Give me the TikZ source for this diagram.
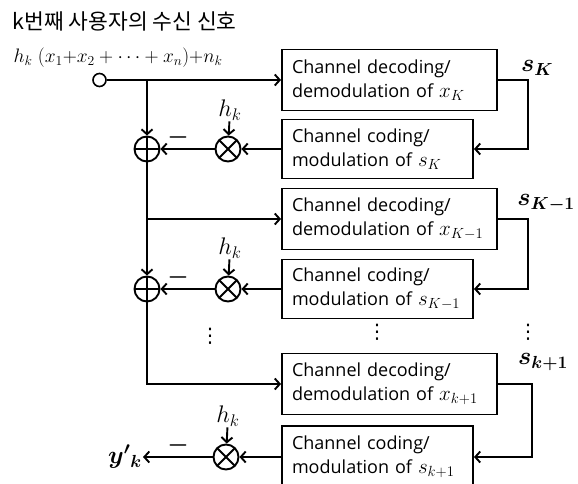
\RequirePackage{fix-cm}
\documentclass[tikz,border=0pt]{standalone}
\usepackage[no-math]{fontspec}
\usepackage{bm}
\setmainfont{Open Sans}
\newfontfamily\krfont{Noto Sans CJK KR}
\newfontfamily\symfont{DejaVu Sans}
\usetikzlibrary{arrows.meta,calc}
\newcommand{\boxvar}[1]{{\fontsize{21}{24}\selectfont$#1$}}
\tikzset{
    wire/.style={line width=1.9pt},
    sig/.style={wire,-{Straight Barb[length=5pt,width=11pt]}},
    blockbox/.style={draw,line width=1.9pt,align=left,inner xsep=10pt,inner ysep=0pt,font=\fontsize{18}{24}\selectfont},
    decbox/.style={blockbox,text width=195pt,minimum height=61pt},
    codbox/.style={blockbox,text width=171pt,minimum height=59pt},
    terminal/.style={circle,draw,line width=1.6pt,minimum size=13pt,inner sep=0pt},
    adder/.style={circle,draw,line width=1.9pt,minimum size=25pt,inner sep=0pt,
        path picture={\draw[line width=1.9pt] (path picture bounding box.north) -- (path picture bounding box.south)
            (path picture bounding box.west) -- (path picture bounding box.east);}},
    mixer/.style={circle,draw,line width=1.9pt,minimum size=25pt,inner sep=0pt,
        path picture={\draw[line width=1.9pt] (path picture bounding box.north west) -- (path picture bounding box.south east)
            (path picture bounding box.north east) -- (path picture bounding box.south west);}},
    gainlabel/.style={font=\fontsize{24}{24}\selectfont,inner sep=1pt},
    symlabel/.style={font=\fontsize{25}{25}\selectfont,inner sep=1pt},
    minuslabel/.style={font=\fontsize{24}{24}\selectfont,inner sep=0pt},
    dotlabel/.style={font=\symfont\fontsize{20}{20}\selectfont,inner sep=0pt}
}

\begin{document}
\begin{tikzpicture}[x=1pt,y=-1pt]
    \useasboundingbox (0,0) rectangle (578,484);
    % Received signal
    \node[anchor=west,font=\krfont\fontsize{21.5}{24}\selectfont] (title) at (9,21) {k번째 사용자의 수신 신호};
    \node[anchor=west,font=\fontsize{19.5}{22}\selectfont] (rx) at (10,58) {$h_k\;(x_1{+}x_2+\cdots+x_n){+}n_k$};
    \node[terminal] (inp) at (99.5,80) {};
    % Blocks
    \node[decbox] (dec1) at (389.5,80) {Channel decoding/\\demodulation~of~\boxvar{x_K}};
    \node[codbox] (cod1) at (377.5,149) {Channel coding/\\modulation~of~\boxvar{s_K}};
    \node[decbox] (dec2) at (389.5,219) {Channel decoding/\\demodulation~of~\boxvar{x_{K-1}}};
    \node[codbox] (cod2) at (377.5,289) {Channel coding/\\modulation~of~\boxvar{s_{K-1}}};
    \node[decbox] (dec3) at (389.5,384) {Channel decoding/\\demodulation~of~\boxvar{x_{k+1}}};
    \node[codbox,minimum height=62pt] (cod3) at (377.5,457) {Channel coding/\\modulation~of~\boxvar{s_{k+1}}};
    % Adders and mixers
    \node[adder] (a1) at (147,149) {};
    \node[adder] (a2) at (147,289) {};
    \node[mixer] (m1) at (228,149) {};
    \node[mixer] (m2) at (228,289) {};
    \node[mixer] (m3) at (226,457) {};
    \node[gainlabel] (h1) at (230,110) {$h_k$};
    \node[gainlabel] (h2) at (230,248) {$h_k$};
    \node[gainlabel] (h3) at (228,416) {$h_k$};
    \node[minuslabel] (n1) at (178,137) {$\bm{-}$};
    \node[minuslabel] (n2) at (178,277) {$\bm{-}$};
    \node[minuslabel] (n3) at (178,445) {$\bm{-}$};
    \node[symlabel] (yout) at (125,457) {$\bm{y'}{}_{\bm{k}}$};
    % Decoded symbols
    \node[symlabel] (sK) at (537,68) {$\bm{s_K}$};
    \node[symlabel] (sK1) at (546,203) {$\bm{s_{K-1}}$};
    \node[symlabel] (sk1) at (543,362) {$\bm{s_{k+1}}$};
    \node[dotlabel] (d1) at (210,336) {⋮};
    \node[dotlabel] (d2) at (377,332) {⋮};
    \node[dotlabel] (d3) at (528,332) {⋮};
    % Main line
    \coordinate (j0) at (a1 |- inp);
    \coordinate (j1) at (a1 |- dec2);
    \draw[sig] (inp) -- (dec1);
    \draw[sig] (j0) -- (a1);
    \draw[sig] (a1) |- (dec2);
    \draw[sig] (j1) -- (a2);
    \draw[sig] (a2) |- (dec3);
    % Cancellation paths
    \draw[sig] (cod1) -- (m1);
    \draw[sig] (m1) -- (a1);
    \draw[sig] (h1) -- (m1);
    \draw[sig] (cod2) -- (m2);
    \draw[sig] (m2) -- (a2);
    \draw[sig] (h2) -- (m2);
    \draw[sig] (cod3) -- (m3);
    \draw[sig] (m3) -- (yout);
    \draw[sig] (h3) -- (m3);
    % Feedback
    \coordinate (fb1) at (528,80);
    \coordinate (fb2) at (528,219);
    \coordinate (fb3) at (532,384);
    \draw[sig] (dec1) -- (fb1) |- (cod1);
    \draw[sig] (dec2) -- (fb2) |- (cod2);
    \draw[sig] (dec3) -- (fb3) |- (cod3);
\end{tikzpicture}
\end{document}
